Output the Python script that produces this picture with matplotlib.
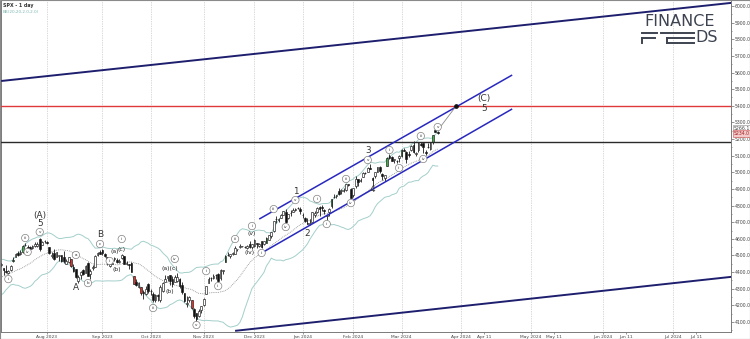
import numpy as np
import pandas as pd
import matplotlib
matplotlib.use('Agg')
import matplotlib.pyplot as plt
from matplotlib.lines import Line2D
from matplotlib.patches import Rectangle
from matplotlib.ticker import FixedLocator, MultipleLocator

# --- data: SPX daily ---
# closes before the visible window, only used to warm up the Bollinger bands
warmup_close = [4221.0, 4282.4, 4273.8, 4283.9, 4267.5, 4293.9, 4298.9, 4338.9, 4369.0, 4372.6, 4425.8,
                4409.6, 4388.7, 4365.7, 4381.9, 4348.3, 4328.8, 4378.4, 4376.9, 4396.4, 4450.4, 4455.6]

opens = [
    4442, 4422, 4404, 4394, 4415, 4467, 4491, 4514, 4508, 4521, 4563, 4554, 4550, 4543, 4555, 4558, 4598, 4565, 4585,
    4579, 4550, 4494, 4514, 4491, 4498, 4501, 4488, 4450, 4458, 4478, 4433, 4416, 4344, 4380, 4415, 4397, 4456, 4389, 4426, 4433, 4501, 4518,
    4530, 4510, 4490, 4434, 4451, 4480, 4473, 4462, 4487, 4497, 4446, 4445, 4452, 4375, 4341, 4310, 4313, 4282, 4270, 4328,
    4284, 4270, 4233, 4259, 4234, 4289, 4339, 4366, 4381, 4360, 4342, 4346, 4357, 4321, 4274, 4210, 4235, 4232, 4176, 4152, 4139, 4171,
    4201, 4268, 4334, 4364, 4366, 4384, 4391, 4364, 4406, 4458, 4505, 4497, 4510, 4511, 4539, 4553, 4555, 4554, 4546, 4571, 4554,
    4559, 4574, 4557, 4586, 4568, 4576, 4593, 4618, 4646, 4721, 4715, 4725, 4743, 4764, 4725, 4754, 4759, 4773, 4786, 4782,
    4746, 4726, 4698, 4690, 4703, 4741, 4760, 4792, 4791, 4772, 4739, 4761, 4796, 4853, 4856, 4888, 4886, 4888, 4892, 4925, 4899,
    4862, 4916, 4957, 4950, 4973, 4995, 5004, 5026, 4968, 4976, 5004, 5032, 4990, 4963, 5039, 5101, 5093, 5074, 5067, 5085,
    5098, 5131, 5124, 5109, 5133, 5164, 5111, 5134, 5173, 5175, 5124, 5154, 5140, 5181, 5253, 5242,
]
highs = [
    4454, 4422, 4440, 4412, 4443, 4488, 4517, 4527, 4532, 4562, 4578, 4565, 4555, 4564, 4581, 4583, 4607, 4590, 4595,
    4585, 4551, 4519, 4540, 4520, 4503, 4503, 4527, 4477, 4491, 4478, 4449, 4421, 4381, 4407, 4418, 4443, 4459, 4419, 4440, 4500, 4522, 4532,
    4541, 4514, 4490, 4457, 4473, 4490, 4487, 4479, 4511, 4497, 4466, 4449, 4461, 4376, 4357, 4338, 4313, 4292, 4317, 4333,
    4300, 4282, 4268, 4267, 4324, 4341, 4385, 4378, 4385, 4377, 4383, 4393, 4364, 4339, 4276, 4255, 4259, 4232, 4183, 4157, 4177, 4195,
    4245, 4319, 4373, 4372, 4386, 4391, 4393, 4418, 4414, 4503, 4521, 4511, 4521, 4557, 4542, 4568, 4560, 4555, 4562, 4587, 4569,
    4599, 4574, 4578, 4590, 4590, 4610, 4623, 4644, 4709, 4739, 4725, 4749, 4769, 4778, 4749, 4772, 4785, 4785, 4793, 4789,
    4755, 4729, 4727, 4721, 4764, 4765, 4790, 4798, 4802, 4782, 4744, 4785, 4842, 4868, 4866, 4903, 4898, 4906, 4929, 4932, 4906,
    4907, 4975, 4959, 4963, 4999, 5001, 5030, 5048, 4970, 5002, 5033, 5038, 4994, 4983, 5094, 5111, 5097, 5081, 5077, 5105,
    5140, 5149, 5127, 5127, 5165, 5190, 5125, 5180, 5180, 5179, 5137, 5176, 5180, 5226, 5261, 5246,
]
lows = [
    4437, 4385, 4397, 4389, 4408, 4463, 4489, 4499, 4504, 4515, 4557, 4527, 4532, 4541, 4554, 4549, 4528, 4564, 4577,
    4567, 4506, 4485, 4474, 4491, 4464, 4461, 4457, 4448, 4454, 4432, 4403, 4364, 4335, 4360, 4382, 4396, 4375, 4356, 4411, 4431, 4494, 4508,
    4502, 4492, 4442, 4431, 4448, 4467, 4456, 4453, 4478, 4448, 4442, 4416, 4402, 4329, 4316, 4302, 4265, 4238, 4265, 4274,
    4260, 4220, 4220, 4225, 4219, 4283, 4339, 4345, 4325, 4311, 4342, 4338, 4306, 4269, 4223, 4189, 4219, 4181, 4127, 4103, 4132, 4153,
    4197, 4268, 4334, 4347, 4360, 4360, 4343, 4353, 4389, 4458, 4495, 4487, 4500, 4510, 4526, 4545, 4553, 4546, 4541, 4547, 4537,
    4554, 4546, 4551, 4546, 4564, 4574, 4593, 4606, 4643, 4694, 4704, 4725, 4743, 4697, 4717, 4736, 4759, 4768, 4780, 4751,
    4723, 4700, 4687, 4683, 4700, 4730, 4757, 4740, 4768, 4748, 4714, 4740, 4785, 4844, 4844, 4865, 4870, 4882, 4887, 4916, 4845,
    4853, 4906, 4918, 4939, 4969, 4987, 5001, 5017, 4920, 4964, 4999, 4997, 4955, 4946, 5039, 5081, 5068, 5058, 5058, 5061,
    5094, 5128, 5056, 5092, 5128, 5114, 5101, 5122, 5160, 5118, 5105, 5146, 5134, 5172, 5240, 5230,
]
closes = [
    4446.8, 4411.6, 4398.9, 4409.5, 4439.3, 4472.2, 4510.0, 4505.4, 4522.8, 4554.9, 4565.7, 4534.9, 4536.3, 4554.6, 4567.5, 4566.8, 4537.4, 4582.2, 4589.0,
    4576.7, 4513.4, 4501.9, 4478.0, 4518.4, 4499.4, 4467.7, 4468.8, 4464.1, 4489.7, 4437.9, 4404.3, 4370.4, 4369.7, 4399.8, 4387.6, 4436.0, 4376.3, 4405.7, 4433.3, 4497.6, 4514.9, 4507.7,
    4515.8, 4496.8, 4465.5, 4451.1, 4457.5, 4487.5, 4461.9, 4467.4, 4505.1, 4450.3, 4453.5, 4443.9, 4402.2, 4330.0, 4320.1, 4337.4, 4273.5, 4274.5, 4299.7, 4288.1,
    4288.4, 4229.5, 4263.8, 4258.2, 4308.5, 4335.7, 4358.2, 4376.9, 4349.6, 4327.8, 4373.6, 4373.2, 4314.6, 4278.0, 4224.2, 4217.0, 4247.7, 4186.8, 4137.2, 4117.4, 4166.8, 4193.8,
    4237.9, 4317.8, 4358.3, 4365.9, 4378.4, 4382.8, 4347.4, 4415.2, 4411.6, 4495.7, 4502.9, 4508.2, 4514.0, 4547.4, 4538.2, 4556.6, 4559.3, 4550.4, 4554.9, 4550.6, 4567.8,
    4594.6, 4569.8, 4567.2, 4549.3, 4585.6, 4604.4, 4622.4, 4643.7, 4707.1, 4719.6, 4719.2, 4740.6, 4768.4, 4698.4, 4746.8, 4754.6, 4774.8, 4781.6, 4783.4, 4769.8,
    4742.8, 4704.8, 4688.7, 4697.2, 4763.5, 4756.5, 4783.4, 4780.2, 4783.8, 4766.0, 4739.2, 4780.9, 4839.8, 4850.4, 4864.6, 4868.6, 4894.2, 4890.9, 4927.9, 4924.9, 4845.7,
    4906.2, 4958.6, 4942.8, 4954.2, 4995.1, 4997.9, 5026.6, 5021.8, 4953.2, 5000.6, 5029.7, 5005.6, 4975.5, 4981.8, 5087.0, 5088.8, 5069.5, 5078.2, 5069.8, 5096.3,
    5137.1, 5130.9, 5078.7, 5104.8, 5157.4, 5123.7, 5117.9, 5175.3, 5165.3, 5150.5, 5117.1, 5149.4, 5178.5, 5224.6, 5241.5, 5234.2,
]

holidays = ['2023-06-19', '2023-07-04', '2023-09-04', '2023-11-23', '2023-12-25',
            '2024-01-01', '2024-01-15', '2024-02-19']

# candles drawn in colour by the platform
green_days = ['2023-07-12', '2023-07-18', '2023-11-14', '2023-12-08', '2024-01-19',
              '2024-02-22', '2024-03-01', '2024-03-20']
red_days = ['2023-08-15', '2023-09-21', '2023-09-26', '2023-10-25']

# horizontal levels and last-price tags
resistance = 5400
support = 5182
price_tags = [(5266.1, 'grey'), (5234.0, 'red')]

# trend lines: (date, price) anchors
outer_top = [('2023-07-05', 5549), ('2024-07-31', 6026)]
outer_bottom = [('2023-11-20', 4047), ('2024-07-31', 4379)]
chan_top = [('2023-12-05', 4719), ('2024-04-23', 5585)]
chan_bottom = [('2023-12-06', 4515), ('2024-04-23', 5381)]
target = ('2024-03-30', 5400)
projection_from = ('2024-03-22', 5252)

# Elliott wave labels
circled = [
    ('2023-07-10', 4358, 'ii'), ('2023-07-19', 4605, 'iii'), ('2023-07-20', 4521, 'iv'),
    ('2023-07-27', 4641, 'v'), ('2023-08-17', 4503, 'a'), ('2023-08-24', 4334, 'b'),
    ('2023-08-31', 4569, 'c'), ('2023-09-07', 4467, 'i'), ('2023-09-14', 4599, 'ii'),
    ('2023-10-03', 4184, 'iii'), ('2023-10-16', 4479, 'iv'), ('2023-10-27', 4082, 'v'),
    ('2023-11-02', 4406, 'i'), ('2023-11-09', 4316, 'ii'), ('2023-11-20', 4599, 'iii'),
    ('2023-11-30', 4677, 'i'), ('2023-12-06', 4515, 'ii'), ('2023-12-13', 4779, 'iii'),
    ('2023-12-20', 4671, 'iv'), ('2023-12-27', 4833, 'v'), ('2024-01-10', 4840, 'i'),
    ('2024-01-17', 4689, 'ii'), ('2024-01-29', 4960, 'iii'), ('2024-01-31', 4815, 'iv'),
    ('2024-02-09', 5074, 'v'), ('2024-02-23', 5134, 'i'), ('2024-02-29', 5026, 'ii'),
    ('2024-03-13', 5218, 'iii'), ('2024-03-14', 5080, 'iv'), ('2024-03-22', 5272, 'v'),
]
paren = [
    ('2023-09-11', 4521, '(a)'), ('2023-09-12', 4418, '(b)'), ('2023-09-14', 4539, '(c)'),
    ('2023-10-12', 4424, '(a)(c)'), ('2023-10-12', 4286, '(b)'),
    ('2023-11-29', 4515, '(iv)'), ('2023-11-30', 4635, '(v)'),
]
big = [
    ('2023-07-27', 4743, '(A)'), ('2023-07-27', 4695, '5'), ('2023-08-17', 4310, 'A'),
    ('2023-08-31', 4629, 'B'), ('2023-12-27', 4882, '1'), ('2024-01-04', 4635, '2'),
    ('2024-02-09', 5134, '3'), ('2024-02-13', 4894, '4'),
    ('2024-04-11', 5441, '(C)'), ('2024-04-11', 5381, '5'),
]

# --- trading-day axis ---
dates = pd.bdate_range('2023-06-01', '2024-03-22')
dates = dates[~dates.isin(pd.to_datetime(holidays))]
n_warm = len(warmup_close)
for arr in (opens, highs, lows, closes):
    assert len(arr) == len(dates) - n_warm, (len(arr), len(dates) - n_warm)

FUTURE_STEP = 0.965   # the platform packs calendar days after the last bar


def xpos(day):
    d = pd.Timestamp(day)
    if d <= dates[-1]:
        return int(dates.searchsorted(d))
    return (len(dates) - 1) + (d - dates[-1]).days * FUTURE_STEP


all_close = pd.Series(warmup_close + closes)
mid = all_close.rolling(20).mean()
sd = all_close.rolling(20).std(ddof=0)
bb_up = mid + 2 * sd
bb_dn = mid - 2 * sd

fig = plt.figure(figsize=(7.5, 3.39), dpi=100)
fig.patch.set_facecolor('white')
ax = fig.add_axes([1 / 750, 7 / 339, 730 / 750, 332 / 339])
ax.set_facecolor('white')

xi = np.arange(len(dates))
ax.plot(xi, bb_up, color='#a3cfcb', lw=0.7, zorder=2)
ax.plot(xi, bb_dn, color='#a3cfcb', lw=0.7, zorder=2)
ax.plot(xi, mid, color='#8a8a8a', lw=0.6, ls=(0, (1, 1.2)), zorder=2)

# candles
o = np.array(opens, float)
h = np.array(highs, float)
l = np.array(lows, float)
c = np.array(closes, float)
cx = xi[n_warm:]
green_x = {xpos(d) for d in green_days}
red_x = {xpos(d) for d in red_days}
face = []
for x, oo, cc in zip(cx, o, c):
    if x in green_x:
        face.append('#3fae49')
    elif x in red_x:
        face.append('#d9362b')
    else:
        face.append('white' if cc >= oo else '#111111')
ax.vlines(cx, l, h, color='#1a1a1a', lw=0.6, zorder=3)
ax.bar(cx, np.maximum(np.abs(c - o), 2), bottom=np.minimum(o, c), width=0.72,
       color=face, edgecolor='#1a1a1a', linewidth=0.45, zorder=4)

# levels
ax.axhline(resistance, color='#e0393a', lw=1.0, zorder=5)
ax.axhline(support, color='#2a2a2a', lw=1.0, zorder=5)

# trend lines
for pts, col, lw in [(outer_top, '#1e1e6e', 1.4), (outer_bottom, '#1e1e6e', 1.4),
                     (chan_top, '#2828bf', 1.1), (chan_bottom, '#2828bf', 1.1)]:
    ax.plot([xpos(p[0]) for p in pts], [p[1] for p in pts], color=col, lw=lw,
            solid_capstyle='butt', zorder=6)
ax.plot([xpos(projection_from[0]), xpos(target[0])], [projection_from[1], target[1]],
        color='#8a8a8a', lw=0.6, zorder=6)
ax.plot(xpos(target[0]), target[1], 'o', color='#111111', ms=2.4, zorder=7)

# wave labels
for d, p, t in circled:
    ax.text(xpos(d), p, t, fontsize=3.0, color='#333333', ha='center', va='center', zorder=8,
            bbox=dict(boxstyle='circle,pad=0.4', fc='white', ec='#808080', lw=0.5))
for d, p, t in paren:
    ax.text(xpos(d), p, t, fontsize=4.4, color='#222222', ha='center', va='center', zorder=8)
for d, p, t in big:
    ax.text(xpos(d), p, t, fontsize=6.4, color='#333333', ha='center', va='center', zorder=8)

# axes
ax.set_xlim(21.95, 324.6)
ax.set_ylim(4040, 6036)

months = pd.date_range('2023-08-01', '2024-07-01', freq='MS')
ax.xaxis.set_major_locator(FixedLocator([xpos(m) for m in months]))
ax.set_xticklabels([m.strftime('%b %Y') for m in months])
mids = pd.to_datetime(['2024-04-11', '2024-05-11', '2024-06-11', '2024-07-11'])
ax.xaxis.set_minor_locator(FixedLocator([xpos(m) for m in mids]))
ax.set_xticklabels([m.strftime('%b %d') for m in mids], minor=True)
ax.tick_params(axis='x', which='both', labelsize=3.2, length=1.5, width=0.4, pad=0.6,
               colors='#444444')
ax.grid(axis='x', which='major', color='#b5b5b5', lw=0.5, ls=(0, (1, 1.5)))

ax.yaxis.tick_right()
ax.set_yticks(range(4100, 6001, 100))
ax.set_yticklabels([f'{v:.1f}' for v in range(4100, 6001, 100)])
ax.yaxis.set_minor_locator(MultipleLocator(50))
ax.tick_params(axis='y', which='major', labelsize=3.3, length=1.8, width=0.4, pad=0.8,
               colors='#444444')
ax.tick_params(axis='y', which='minor', length=1.0, width=0.4, colors='#444444')
for sp in ax.spines.values():
    sp.set_color('#7a7a7a')
    sp.set_linewidth(0.7)

ytr = ax.get_yaxis_transform()
for val, kind in price_tags:
    if kind == 'red':
        bb = dict(boxstyle='square,pad=0.15', fc='#f3c9c9', ec='#d05050', lw=0.4)
        col = '#a02020'
    else:
        bb = dict(boxstyle='square,pad=0.15', fc='white', ec='#888888', lw=0.4)
        col = '#444444'
    ax.text(1.004, val, f'{val:.1f}', transform=ytr, fontsize=3.3, color=col,
            ha='left', va='center', bbox=bb, clip_on=False, zorder=9)

# header
fig.text(3 / 750, 1 - 5 / 339, 'SPX - 1 day', fontsize=3.4, fontweight='bold', color='#333333',
         ha='left', va='center')
fig.text(3 / 750, 1 - 12 / 339, 'BB(20,20,2.0,2.0)', fontsize=3.0, color='#7fb7b2',
         ha='left', va='center')

# watermark logo
logo = '#3d4350'
fig.text(680 / 750, 1 - 21 / 339, 'FINANCE', fontsize=11.5, color=logo, ha='center', va='center')
fig.text(707 / 750, 1 - 38 / 339, 'DS', fontsize=11.5, color=logo, ha='center', va='center')
for (x0, y0, x1, y1) in [(642, 33, 657, 33), (642, 38, 642, 43), (642, 38, 655, 38),
                         (661, 33, 694, 33), (667, 38, 694, 38), (667, 43, 694, 43),
                         (667, 38, 667, 43)]:
    fig.add_artist(Line2D([x0 / 750, x1 / 750], [1 - y0 / 339, 1 - y1 / 339],
                          color=logo, lw=1.4, transform=fig.transFigure))

fig.add_artist(Rectangle((0, 0), 1, 1, transform=fig.transFigure, fill=False,
                         ec='#8a8a8a', lw=0.8))

plt.savefig('out.png', dpi=100, facecolor='white')
plt.close()
print("out.png saved.")
